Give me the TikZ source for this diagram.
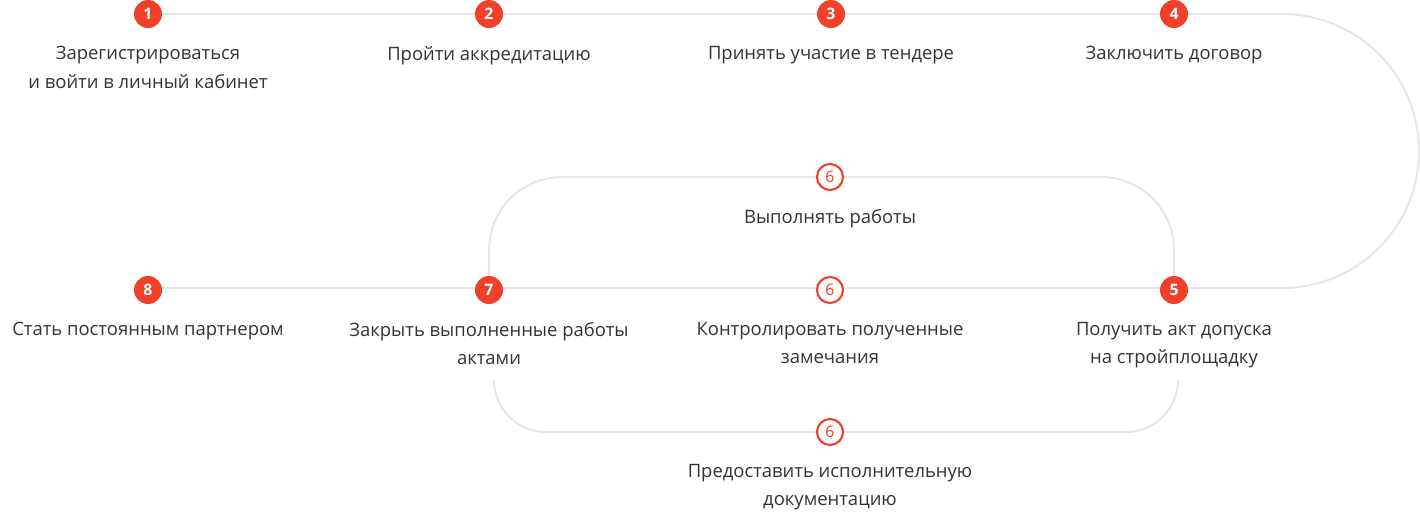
\documentclass[tikz,border=0pt]{standalone}
\usepackage{fontspec}
\setmainfont{Open Sans}
\usetikzlibrary{positioning}
\definecolor{stepred}{HTML}{F0402A}
\definecolor{trackgray}{HTML}{E6E6E6}
\definecolor{textgray}{HTML}{333333}
\newlength{\px}\setlength{\px}{0.02cm}
\tikzset{
  stepdot/.style={circle, fill=stepred, text=white, minimum size=28\px, inner sep=0pt, font=\fontsize{9}{9}\selectfont\bfseries},
  subdot/.style={circle, draw=stepred, fill=white, line width=1.2pt, text=stepred, minimum size=26\px, inner sep=0pt, font=\fontsize{9}{9}\selectfont},
  steplabel/.style={align=center, text=textgray, font=\fontsize{10.5}{16}\selectfont},
  track/.style={draw=trackgray, line width=2\px}
}
\begin{document}
\begin{tikzpicture}[x=0.02cm, y=0.02cm]
\useasboundingbox (0,0) rectangle (1420,-512);
% track
\draw[track] (148,-14) -- (1282,-14) arc[start angle=90, end angle=-90, radius=137] -- (148,-288);
\draw[track] (489,-290) -- (489,-250) arc[start angle=180, end angle=90, radius=73] -- (1101,-177)
  arc[start angle=90, end angle=0, radius=73] -- (1174,-288);
\draw[track] (494,-380) arc[start angle=180, end angle=270, radius=52] -- (1126,-432)
  arc[start angle=270, end angle=360, radius=52];
% steps
\node[stepdot] (s1) at (148,-14) {1};
\node[stepdot] (s2) at (489,-14) {2};
\node[stepdot] (s3) at (831,-14) {3};
\node[stepdot] (s4) at (1174,-14) {4};
\node[stepdot] (s5) at (1174,-290) {5};
\node[stepdot] (s7) at (489,-290) {7};
\node[stepdot] (s8) at (148,-290) {8};
\node[subdot] (s6a) at (830,-177) {6};
\node[subdot] (s6b) at (830,-290) {6};
\node[subdot] (s6c) at (830,-432) {6};
% labels
\node[steplabel, below=12\px of s1] (l1) {Зарегистрироваться\\и войти в личный кабинет};
\node[steplabel, below=12\px of s2] (l2) {Пройти аккредитацию};
\node[steplabel, below=12\px of s3] (l3) {Принять участие в тендере};
\node[steplabel, below=12\px of s4] (l4) {Заключить договор};
\node[steplabel, below=12\px of s5] (l5) {Получить акт допуска\\на стройплощадку};
\node[steplabel, below=12\px of s7] (l7) {Закрыть выполненные работы\\актами};
\node[steplabel, below=12\px of s8] (l8) {Стать постоянным партнером};
\node[steplabel, below=12\px of s6a] (l6a) {Выполнять работы};
\node[steplabel, below=12\px of s6b] (l6b) {Контролировать полученные\\замечания};
\node[steplabel, below=12\px of s6c] (l6c) {Предоставить исполнительную\\документацию};
\end{tikzpicture}
\end{document}
